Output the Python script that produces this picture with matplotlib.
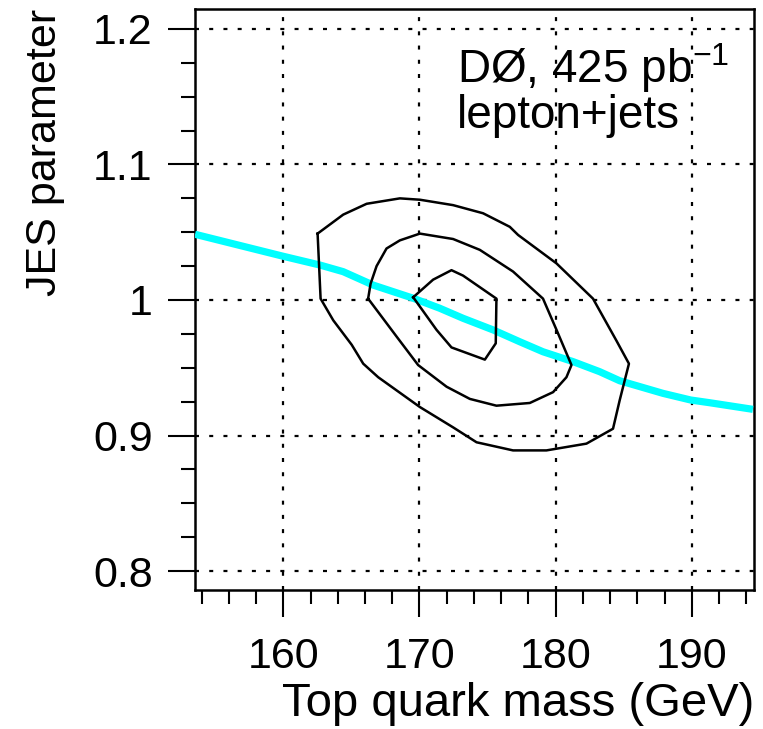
from matplotlib import pyplot as plt
from matplotlib.ticker import MultipleLocator, FuncFormatter

plt.rcParams['font.family'] = ['Liberation Sans', 'DejaVu Sans']
plt.rcParams['mathtext.fontset'] = 'custom'
plt.rcParams['mathtext.rm'] = 'Liberation Sans'

# contorno exterior (masa del top en GeV, parametro JES)
ext_masa = [162.52, 162.74, 163.67, 165.02, 165.87, 166.97, 170.03, 172.47, 174.19,
            176.87, 179.32, 182.26, 184.21, 184.70, 185.38, 184.46, 182.74, 180.06,
            177.24, 176.63, 174.67, 172.47, 170.03, 168.56, 166.12, 164.40, 162.52]
ext_jes = [1.049, 1.001, 0.985, 0.967, 0.953, 0.943, 0.921, 0.906, 0.895,
           0.889, 0.889, 0.894, 0.905, 0.926, 0.953, 0.970, 1.001, 1.027,
           1.048, 1.054, 1.064, 1.070, 1.074, 1.075, 1.071, 1.063, 1.049]

# contorno intermedio
med_masa = [166.23, 166.41, 166.85, 167.58, 168.56, 170.03, 172.47, 174.43, 176.87,
            179.07, 180.06, 181.16, 180.79, 179.81, 178.10, 175.65, 173.70, 171.99,
            169.90, 168.32, 166.23]
med_jes = [1.001, 1.012, 1.025, 1.038, 1.044, 1.049, 1.045, 1.037, 1.021,
           1.001, 0.978, 0.952, 0.943, 0.932, 0.924, 0.922, 0.927, 0.936,
           0.952, 0.973, 1.001]

# contorno interior
int_masa = [169.54, 171.00, 172.35, 173.20, 175.65, 175.60, 174.80, 172.35, 171.25, 169.54]
int_jes = [1.002, 1.015, 1.022, 1.018, 1.001, 0.968, 0.956, 0.965, 0.978, 1.002]

# curva cian
curva_masa = [153.52, 159.90, 162.69, 164.40, 166.60, 169.54, 171.49, 173.20, 175.41,
              177.36, 179.07, 181.28, 183.23, 184.70, 187.88, 189.91, 191.30, 194.48]
curva_jes = [1.0485, 1.0325, 1.0258, 1.0209, 1.011, 1.0013, 0.9939, 0.9865, 0.9779,
             0.9692, 0.9618, 0.9545, 0.9471, 0.9404, 0.9311, 0.9262, 0.9242, 0.9193]

ticks_x = [160, 170, 180, 190]
ticks_y = [0.8, 0.9, 1.0, 1.1, 1.2]

fig = plt.figure(figsize=(7.63, 7.29), dpi=100)
ax = fig.add_axes([0.2556, 0.1907, 0.7324, 0.7965])

ax.plot(curva_masa, curva_jes, color='#00ffff', lw=5.2, solid_capstyle='butt', zorder=3)
for xs, ys in [(ext_masa, ext_jes), (med_masa, med_jes), (int_masa, int_jes)]:
    ax.plot(xs, ys, color='black', lw=1.8, zorder=4)

ax.set_xlim(153.52, 194.55)
ax.set_ylim(0.786, 1.2145)
ax.set_xticks(ticks_x)
ax.set_yticks(ticks_y)
ax.xaxis.set_minor_locator(MultipleLocator(2))
ax.yaxis.set_minor_locator(MultipleLocator(0.025))
ax.yaxis.set_major_formatter(FuncFormatter(lambda v, p: '%g' % v))

ax.grid(True, which='major', color='black', lw=1.6, linestyle=(0, (1.8, 4.6)))

for s in ax.spines.values():
    s.set_linewidth(1.8)
ax.tick_params(which='major', direction='out', length=19.5, width=1.5, labelsize=31, pad=11)
ax.tick_params(which='minor', direction='out', length=10, width=1.5)
ax.tick_params(axis='x', which='major', pad=14)

ax.set_xlabel('Top quark mass (GeV)', fontsize=34, loc='right')
ax.set_ylabel('JES parameter', fontsize=31, loc='top')
ax.xaxis.label.set_va('baseline')
ax.xaxis.set_label_coords(1.0, -0.2170)
ax.yaxis.set_label_coords(-0.232, 1.0)

ax.text(172.75, 1.160, r'DØ, 425 pb$^{\mathregular{-1}}$', fontsize=33, va='baseline')
ax.text(172.75, 1.127, 'lepton+jets', fontsize=33, va='baseline')

plt.savefig('out.png', dpi=100)
